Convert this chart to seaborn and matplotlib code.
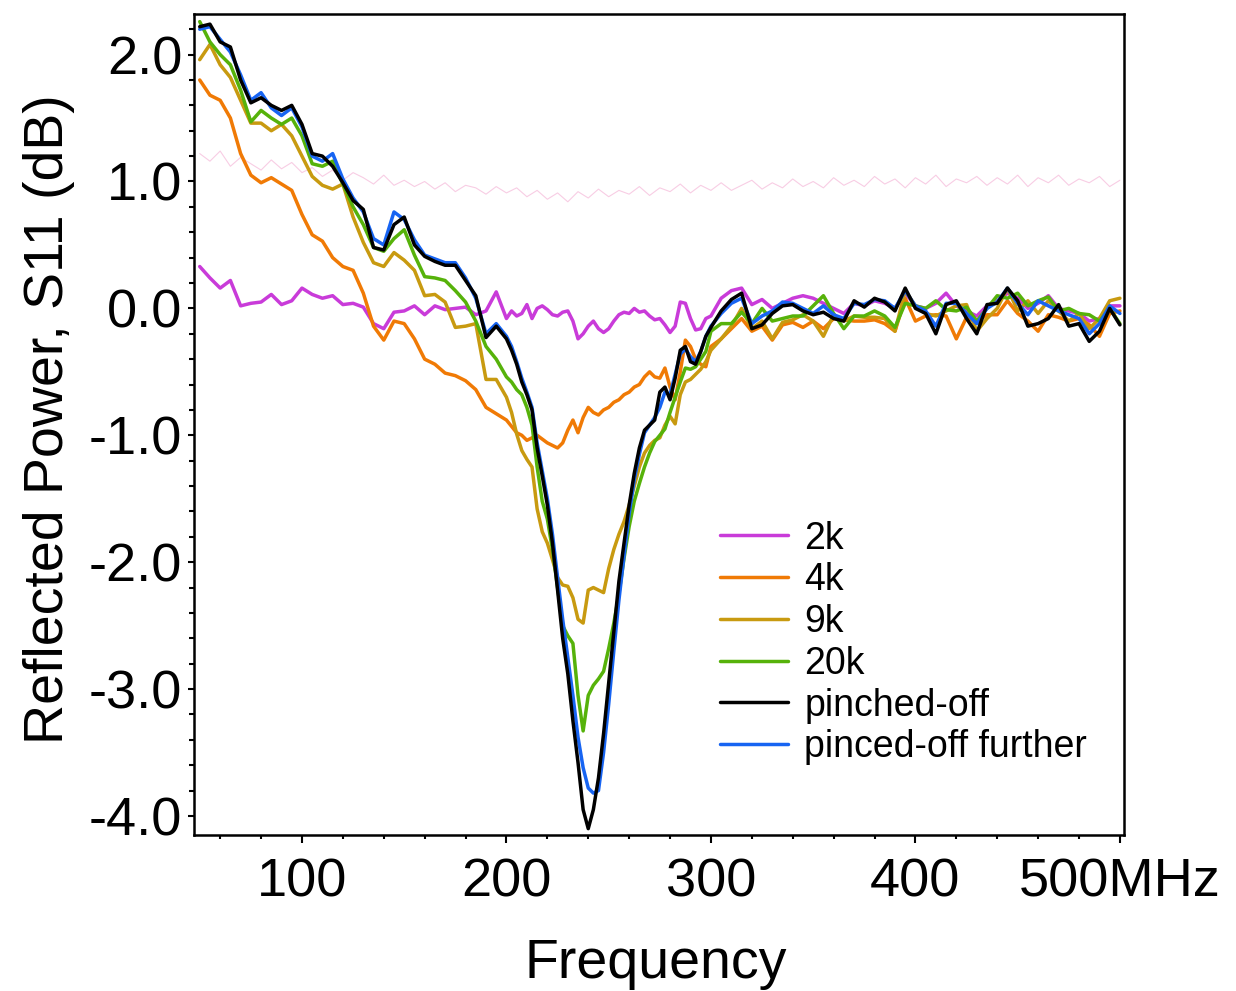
import numpy as np
import matplotlib
matplotlib.use("Agg")
import matplotlib.pyplot as plt
from matplotlib.ticker import MultipleLocator, FixedLocator, FixedFormatter, FormatStrFormatter
import seaborn as sns

# Frequency axis (MHz): 5 MHz steps, 2.5 MHz steps through the resonance dip
freq = np.concatenate([np.arange(50, 200, 5.0), np.arange(200, 300, 2.5), np.arange(300, 505, 5.0)])
freq_ref = np.arange(50, 505, 5.0)

# S11 (dB) per gate state; blocks: 50-195, 200-297.5, 300-500 MHz
s11_2k = [
    0.33, 0.24, 0.16, 0.22, 0.02, 0.04, 0.05, 0.11, 0.03, 0.06,
    0.16, 0.11, 0.08, 0.10, 0.03, 0.04, 0.01, -0.12, -0.16, -0.03,
    -0.02, 0.02, -0.05, 0.02, -0.01, 0.00, 0.01, -0.05, -0.02, 0.13,
    -0.08, -0.02, -0.06, -0.04, 0.03, -0.08, 0.00, 0.02, -0.01, -0.05,
    -0.06, -0.03, -0.02, -0.10, -0.24, -0.20, -0.14, -0.10, -0.16, -0.19,
    -0.16, -0.10, -0.05, -0.03, -0.04, 0.00, -0.03, -0.02, -0.06, -0.09,
    -0.08, -0.13, -0.19, -0.14, 0.05, 0.04, -0.08, -0.17, -0.16, -0.08,
    -0.06, 0.08, 0.14, 0.16, 0.03, 0.07, 0.00, 0.04, 0.08, 0.10,
    0.08, 0.04, 0.00, -0.04, 0.04, 0.02, 0.06, 0.04, 0.00, 0.12,
    0.02, 0.00, 0.04, 0.12, 0.02, -0.02, -0.06, 0.02, 0.06, 0.12,
    0.08, 0.00, 0.04, 0.10, 0.00, -0.02, -0.04, -0.10, -0.08, 0.02,
    0.02,
]
s11_4k = [
    1.80, 1.68, 1.64, 1.50, 1.22, 1.05, 0.99, 1.03, 0.98, 0.93,
    0.74, 0.58, 0.53, 0.40, 0.33, 0.30, 0.12, -0.14, -0.25, -0.10,
    -0.12, -0.24, -0.40, -0.44, -0.51, -0.53, -0.57, -0.64, -0.78, -0.83,
    -0.88, -0.93, -0.98, -1.00, -1.04, -1.02, -1.00, -1.03, -1.06, -1.08,
    -1.10, -1.06, -0.96, -0.88, -0.98, -0.86, -0.78, -0.82, -0.84, -0.80,
    -0.78, -0.74, -0.72, -0.68, -0.66, -0.62, -0.60, -0.54, -0.50, -0.54,
    -0.55, -0.47, -0.62, -0.72, -0.50, -0.25, -0.30, -0.40, -0.44, -0.46,
    -0.30, -0.24, -0.16, -0.08, -0.18, -0.14, -0.25, -0.13, -0.11, -0.15,
    -0.10, -0.16, -0.08, -0.09, -0.10, -0.10, -0.09, -0.12, -0.18, 0.08,
    -0.10, -0.06, -0.05, -0.06, -0.24, -0.07, -0.11, -0.05, -0.05, 0.06,
    -0.04, -0.10, -0.18, -0.05, -0.07, -0.10, -0.08, -0.13, -0.22, -0.04,
    -0.02,
]
s11_9k = [
    1.96, 2.08, 1.92, 1.82, 1.64, 1.46, 1.46, 1.40, 1.45, 1.36,
    1.20, 1.04, 0.97, 0.94, 0.98, 0.72, 0.52, 0.36, 0.33, 0.44,
    0.38, 0.30, 0.10, 0.11, 0.05, -0.15, -0.14, -0.12, -0.56, -0.56,
    -0.70, -0.82, -0.99, -1.12, -1.19, -1.25, -1.58, -1.76, -1.85, -1.98,
    -2.12, -2.18, -2.19, -2.28, -2.45, -2.48, -2.22, -2.20, -2.22, -2.24,
    -2.05, -1.90, -1.78, -1.68, -1.55, -1.40, -1.25, -1.14, -1.08, -1.04,
    -1.02, -0.92, -0.85, -0.91, -0.68, -0.58, -0.56, -0.52, -0.48, -0.42,
    -0.33, -0.24, -0.14, 0.00, -0.16, -0.10, -0.24, -0.11, -0.09, -0.05,
    -0.10, -0.22, -0.05, -0.10, -0.06, -0.07, -0.07, -0.08, -0.18, 0.14,
    0.02, -0.04, -0.06, -0.02, 0.02, 0.03, -0.18, -0.08, 0.00, 0.16,
    -0.02, 0.06, -0.04, 0.06, -0.02, -0.10, -0.04, -0.16, -0.08, 0.06,
    0.08,
]
s11_20k = [
    2.26, 2.10, 2.00, 1.92, 1.72, 1.47, 1.56, 1.50, 1.45, 1.50,
    1.36, 1.14, 1.12, 1.16, 0.98, 0.80, 0.66, 0.48, 0.45, 0.55,
    0.62, 0.42, 0.25, 0.24, 0.22, 0.14, 0.05, -0.10, -0.30, -0.40,
    -0.54, -0.58, -0.64, -0.68, -0.78, -0.92, -1.25, -1.52, -1.66, -1.90,
    -2.20, -2.50, -2.58, -2.64, -3.05, -3.33, -3.05, -2.97, -2.92, -2.86,
    -2.68, -2.48, -2.25, -1.97, -1.72, -1.52, -1.38, -1.25, -1.14, -1.05,
    -1.00, -0.95, -0.82, -0.70, -0.58, -0.47, -0.48, -0.46, -0.40, -0.34,
    -0.18, -0.12, -0.12, -0.03, -0.12, 0.00, -0.10, -0.08, -0.06, -0.06,
    0.02, 0.10, -0.04, -0.16, -0.06, -0.06, -0.02, -0.06, -0.15, 0.04,
    0.02, 0.00, 0.06, -0.01, -0.02, 0.01, -0.10, 0.00, 0.10, 0.08,
    0.12, 0.02, 0.06, 0.09, -0.02, 0.00, -0.04, -0.05, -0.10, 0.00,
    -0.12,
]
s11_pinched = [
    2.22, 2.24, 2.10, 2.06, 1.80, 1.62, 1.66, 1.60, 1.56, 1.60,
    1.45, 1.22, 1.20, 1.12, 0.99, 0.85, 0.78, 0.48, 0.46, 0.66,
    0.72, 0.50, 0.41, 0.37, 0.34, 0.34, 0.22, 0.10, -0.23, -0.14,
    -0.24, -0.33, -0.44, -0.58, -0.68, -0.80, -1.10, -1.32, -1.55, -1.85,
    -2.22, -2.60, -2.88, -3.25, -3.58, -3.95, -4.10, -3.95, -3.70, -3.35,
    -2.95, -2.55, -2.15, -1.85, -1.55, -1.30, -1.10, -0.96, -0.92, -0.88,
    -0.66, -0.62, -0.72, -0.55, -0.33, -0.30, -0.42, -0.44, -0.34, -0.22,
    -0.15, -0.02, 0.07, 0.12, -0.16, -0.13, -0.04, 0.02, 0.03, -0.02,
    -0.05, -0.03, -0.08, -0.10, 0.06, 0.01, 0.08, 0.05, -0.02, 0.16,
    0.00, -0.04, -0.20, 0.03, 0.06, -0.08, -0.20, 0.03, 0.04, 0.16,
    0.06, -0.14, -0.12, -0.08, 0.03, -0.14, -0.12, -0.26, -0.18, 0.00,
    -0.13,
]
s11_further = [
    2.20, 2.22, 2.12, 2.02, 1.84, 1.64, 1.70, 1.58, 1.52, 1.58,
    1.43, 1.20, 1.16, 1.22, 1.02, 0.87, 0.76, 0.55, 0.50, 0.76,
    0.70, 0.54, 0.42, 0.39, 0.36, 0.36, 0.24, 0.08, -0.20, -0.12,
    -0.22, -0.30, -0.42, -0.55, -0.66, -0.78, -1.06, -1.28, -1.50, -1.78,
    -2.12, -2.45, -2.75, -3.05, -3.38, -3.62, -3.78, -3.82, -3.80, -3.50,
    -3.12, -2.70, -2.30, -1.95, -1.62, -1.35, -1.15, -0.98, -0.92, -0.86,
    -0.78, -0.66, -0.68, -0.52, -0.36, -0.32, -0.38, -0.42, -0.34, -0.22,
    -0.14, -0.04, 0.04, 0.08, -0.12, -0.06, -0.02, 0.05, 0.04, 0.00,
    -0.04, 0.02, -0.05, -0.08, 0.04, 0.03, 0.07, 0.06, 0.00, 0.14,
    0.02, -0.02, -0.14, 0.04, 0.04, -0.04, -0.12, 0.00, 0.05, 0.16,
    0.04, -0.05, 0.06, 0.02, -0.02, -0.05, -0.08, -0.20, -0.12, 0.02,
    -0.04,
]
# faint background reference trace (5 MHz steps, 50-500 MHz)
s11_ref = [
    1.22,
    1.16, 1.24, 1.12, 1.19, 1.14, 1.09, 1.17, 1.10, 1.15, 1.07,
    1.11, 1.04, 1.09, 1.01, 1.07, 1.03, 0.98, 1.05, 0.97, 1.01,
    0.96, 1.00, 0.94, 0.99, 0.92, 0.97, 0.95, 0.90, 0.96, 0.91,
    0.95, 0.88, 0.93, 0.86, 0.91, 0.84, 0.92, 0.87, 0.94, 0.88,
    0.93, 0.90, 0.96, 0.89, 0.95, 0.92, 0.98, 0.91, 0.97, 0.93,
    0.99, 0.93, 0.97, 1.01, 0.94, 0.99, 0.95, 1.02, 0.96, 1.00,
    0.95, 1.03, 0.97, 1.01, 0.96, 1.04, 0.98, 1.02, 0.95, 1.03,
    0.98, 1.05, 0.96, 1.02, 0.99, 1.04, 0.97, 1.03, 0.98, 1.05,
    0.96, 1.03, 0.99, 1.05, 0.97, 1.02, 0.99, 1.04, 0.96, 1.01,
]

series_labels = ["2k", "4k", "9k", "20k", "pinched-off", "pinced-off further"]
series_values = [s11_2k, s11_4k, s11_9k, s11_20k, s11_pinched, s11_further]
series_colors = ["#c93bd9", "#f07a05", "#c89a10", "#56b20a", "#000000", "#1764f2"]
draw_order = ["2k", "4k", "9k", "20k", "pinced-off further", "pinched-off"]

x_ticks = [100, 200, 300, 400, 500]
x_tick_labels = ["100", "200", "300", "400", "500MHz"]

sns.set_theme(style="ticks")
plt.rcParams["font.family"] = ["Liberation Sans", "DejaVu Sans"]
plt.rcParams["axes.unicode_minus"] = False
plt.rcParams["text.color"] = "black"
plt.rcParams["axes.labelcolor"] = "black"
plt.rcParams["xtick.color"] = "black"
plt.rcParams["ytick.color"] = "black"

fig = plt.figure(figsize=(12.36, 9.91), dpi=100)
ax = fig.add_axes([194 / 1236, 1 - 835 / 991, 930 / 1236, 821 / 991])

sns.lineplot(x=freq_ref, y=s11_ref, color="#f8cde4", linewidth=0.8, ax=ax,
             estimator=None, sort=False, legend=False)

lookup = {lab: (vals, col) for lab, vals, col in zip(series_labels, series_values, series_colors)}
for lab in draw_order:
    vals, col = lookup[lab]
    sns.lineplot(x=freq, y=vals, color=col, linewidth=2.5, ax=ax, label=lab,
                 estimator=None, sort=False)

ax.set_xlim(47.2, 502)
ax.set_ylim(-4.15, 2.32)

ax.xaxis.set_major_locator(FixedLocator(x_ticks))
ax.xaxis.set_major_formatter(FixedFormatter(x_tick_labels))
ax.xaxis.set_minor_locator(MultipleLocator(20))
ax.yaxis.set_major_locator(MultipleLocator(1.0))
ax.yaxis.set_major_formatter(FormatStrFormatter("%.1f"))
ax.yaxis.set_minor_locator(MultipleLocator(0.2))

ax.tick_params(axis="both", which="both", direction="out", width=1.5, colors="black",
               labelcolor="black")
ax.tick_params(axis="x", which="major", length=5.5, pad=11, labelsize=39)
ax.tick_params(axis="x", which="minor", length=3.2)
ax.tick_params(axis="y", which="major", length=4.5, pad=4, labelsize=39)
ax.tick_params(axis="y", which="minor", length=3.5)

for sp in ax.spines.values():
    sp.set_visible(True)
    sp.set_linewidth(1.8)
    sp.set_color("black")

ax.set_xlabel("Frequency", fontsize=40, color="black")
ax.set_ylabel("Reflected Power, S11 (dB)", fontsize=40, color="black")
ax.xaxis.set_label_coords(0.496, -0.126)
ax.yaxis.set_label_coords(-0.128, 0.507)

handles, labels = ax.get_legend_handles_labels()
hmap = dict(zip(labels, handles))
leg = ax.legend([hmap[l] for l in series_labels], series_labels, loc="upper left",
                bbox_to_anchor=(0.5656, 0.383), frameon=False, fontsize=27,
                handlelength=1.8, handletextpad=0.45, labelspacing=0.153,
                borderaxespad=0, borderpad=0)
for t in leg.get_texts():
    t.set_color("black")

fig.savefig("out.png", dpi=100)
